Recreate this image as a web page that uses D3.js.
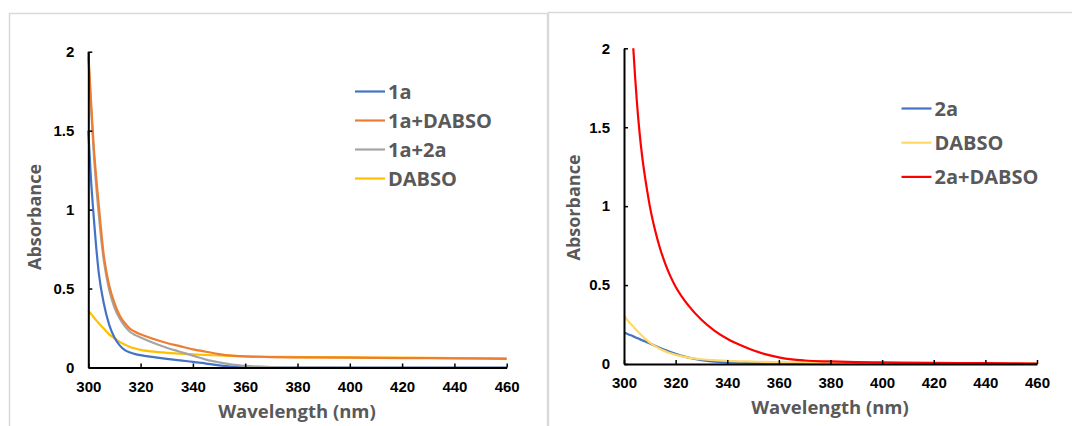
<!DOCTYPE html>
<html>
<head>
<meta charset="utf-8">
<script src="https://cdn.jsdelivr.net/npm/d3@7"></script>
<style>
  body { margin: 0; background: #fff; }
  svg { display: block; }
</style>
</head>
<body>
<svg id="chart" width="1072" height="426"></svg>
<script>
// left panel: 1a study
const waveLeft = [300, 301, 302, 304, 306, 308, 310, 312, 314, 316, 318, 320, 325, 330, 335, 340, 345, 350, 355, 360, 370, 380, 400, 420, 440, 460];
const s1a      = [1.5, 1.2, 0.97, 0.6, 0.4, 0.27, 0.19, 0.14, 0.11, 0.095, 0.085, 0.078, 0.066, 0.055, 0.045, 0.036, 0.025, 0.014, 0.006, 0.002, 0, 0, 0, 0, 0, 0];
const s1aDabso = [2.0, 1.7, 1.42, 1.03, 0.7, 0.52, 0.41, 0.33, 0.28, 0.245, 0.225, 0.21, 0.18, 0.155, 0.135, 0.115, 0.1, 0.085, 0.075, 0.07, 0.066, 0.064, 0.062, 0.06, 0.058, 0.055];
const s1a2a    = [1.97, 1.66, 1.38, 0.97, 0.67, 0.49, 0.38, 0.31, 0.26, 0.225, 0.205, 0.19, 0.155, 0.125, 0.1, 0.075, 0.05, 0.032, 0.018, 0.01, 0.003, 0.001, 0, 0, 0, 0];
const sDabsoL  = [0.36, 0.34, 0.32, 0.28, 0.245, 0.21, 0.185, 0.162, 0.145, 0.13, 0.12, 0.112, 0.1, 0.093, 0.088, 0.083, 0.079, 0.076, 0.073, 0.071, 0.068, 0.066, 0.064, 0.062, 0.06, 0.058];

// right panel: 2a study (2a+DABSO runs off the top below ~303.6 nm)
const waveRight = [300, 302, 303.6, 304.3, 305, 306, 307, 308, 309, 310, 312, 314, 316, 318, 320, 325, 330, 335, 340, 345, 350, 355, 360, 365, 370, 380, 390, 400, 420, 440, 460];
const s2a      = [0.2, 0.186, 0.175, 0.17, 0.165, 0.158, 0.151, 0.144, 0.137, 0.13, 0.116, 0.102, 0.088, 0.076, 0.065, 0.04, 0.024, 0.015, 0.01, 0.008, 0.006, 0.005, 0.004, 0.003, 0.003, 0.002, 0.0015, 0.001, 0.0005, 0, 0];
const sDabsoR  = [0.305, 0.265, 0.237, 0.224, 0.212, 0.195, 0.179, 0.163, 0.149, 0.135, 0.113, 0.095, 0.08, 0.068, 0.058, 0.04, 0.03, 0.024, 0.02, 0.017, 0.015, 0.013, 0.012, 0.011, 0.01, 0.009, 0.008, 0.007, 0.006, 0.005, 0.004];
const s2aDabso = [null, null, 2.0, 1.82, 1.66, 1.47, 1.32, 1.2, 1.095, 1.0, 0.85, 0.73, 0.635, 0.555, 0.49, 0.37, 0.28, 0.212, 0.16, 0.12, 0.087, 0.061, 0.042, 0.029, 0.022, 0.016, 0.012, 0.01, 0.007, 0.005, 0.003];

const xTicks = [300, 320, 340, 360, 380, 400, 420, 440, 460];
const yTicks = [0, 0.5, 1, 1.5, 2];

const panels = [
  {
    frame: { x: 9.5, y: 13.5, w: 538, h: 430 },
    xRange: [88.3, 506.7], yRange: [367.5, 51.7],
    waves: waveLeft,
    series: [
      { name: "1a", values: s1a, color: "#4472C4" },
      { name: "1a+DABSO", values: s1aDabso, color: "#ED7D31" },
      { name: "1a+2a", values: s1a2a, color: "#A5A5A5" },
      { name: "DABSO", values: sDabsoL, color: "#FFC000" },
    ],
    // draw order: yellow underneath, orange on top
    drawOrder: [3, 0, 2, 1],
    legend: { x: 355, y: 91.5, step: 29, len: 30 },
    xTitle: { x: 297, y: 418 },
    yTitle: { x: 41, y: 217 },
  },
  {
    frame: { x: 548.5, y: 12.5, w: 540, h: 430 },
    xRange: [624, 1037], yRange: [364, 48.3],
    waves: waveRight,
    series: [
      { name: "2a", values: s2a, color: "#4472C4" },
      { name: "DABSO", values: sDabsoR, color: "#FFD966" },
      { name: "2a+DABSO", values: s2aDabso, color: "#FF0000" },
    ],
    drawOrder: [0, 1, 2],
    legend: { x: 901.5, y: 108.5, step: 34.2, len: 30 },
    xTitle: { x: 830, y: 414 },
    yTitle: { x: 580, y: 207.5 },
  },
];

const svg = d3.select("#chart");

panels.forEach(p => {
  svg.append("rect")
    .attr("x", p.frame.x).attr("y", p.frame.y)
    .attr("width", p.frame.w).attr("height", p.frame.h)
    .attr("fill", "#fff")
    .attr("stroke", "#d9d9d9")
    .attr("stroke-width", 1.5);

  const x = d3.scaleLinear().domain([300, 460]).range(p.xRange);
  const y = d3.scaleLinear().domain([0, 2]).range(p.yRange);

  const line = d3.line()
    .defined(d => d[1] != null)
    .x(d => x(d[0]))
    .y(d => y(d[1]))
    .curve(d3.curveMonotoneX);

  const lines = svg.append("g");
  p.drawOrder.forEach(i => {
    const s = p.series[i];
    lines.append("path")
      .datum(p.waves.map((w, j) => [w, s.values[j]]))
      .attr("fill", "none")
      .attr("stroke", s.color)
      .attr("stroke-width", 2.2)
      .attr("stroke-linejoin", "round")
      .attr("d", line);
  });

  // axes: ticks point inward, like the source
  const gx = svg.append("g")
    .attr("transform", `translate(0,${p.yRange[0]})`)
    .call(d3.axisBottom(x).tickValues(xTicks).tickSizeInner(-4).tickSizeOuter(0).tickPadding(9));
  const gy = svg.append("g")
    .attr("transform", `translate(${p.xRange[0]},0)`)
    .call(d3.axisLeft(y).tickValues(yTicks).tickSizeInner(-4).tickSizeOuter(0).tickPadding(11)
      .tickFormat(d3.format("")));

  [gx, gy].forEach(g => {
    g.select(".domain").attr("stroke", "#000").attr("stroke-width", 2);
    g.selectAll(".tick line").attr("stroke", "#000").attr("stroke-width", 1.5);
    g.selectAll(".tick text")
      .attr("fill", "#000")
      .style("font-family", "'Liberation Sans', Arial, sans-serif")
      .style("font-weight", "bold")
      .style("font-size", "15px");
  });
  gx.selectAll(".tick text").attr("dy", "1.02em");
  gy.selectAll(".tick text").attr("x", -14);

  const titleFont = "'Open Sans', 'Noto Sans', sans-serif";
  svg.append("text")
    .attr("x", p.xTitle.x).attr("y", p.xTitle.y)
    .attr("text-anchor", "middle")
    .attr("fill", "#595959")
    .style("font-family", titleFont)
    .style("font-weight", "bold")
    .style("font-size", "18.5px")
    .text("Wavelength (nm)");

  svg.append("text")
    .attr("transform", `translate(${p.yTitle.x},${p.yTitle.y}) rotate(-90)`)
    .attr("text-anchor", "middle")
    .attr("fill", "#595959")
    .style("font-family", titleFont)
    .style("font-weight", "bold")
    .style("font-size", "18px")
    .text("Absorbance");

  const leg = svg.append("g");
  p.series.forEach((s, i) => {
    const ly = p.legend.y + i * p.legend.step;
    leg.append("line")
      .attr("x1", p.legend.x).attr("x2", p.legend.x + p.legend.len)
      .attr("y1", ly).attr("y2", ly)
      .attr("stroke", s.color)
      .attr("stroke-width", 2.2);
    leg.append("text")
      .attr("x", p.legend.x + p.legend.len + 3)
      .attr("y", ly)
      .attr("dy", "0.36em")
      .attr("fill", "#595959")
      .style("font-family", titleFont)
      .style("font-weight", "bold")
      .style("font-size", "20px")
      .text(s.name);
  });
});
</script>
</body>
</html>
